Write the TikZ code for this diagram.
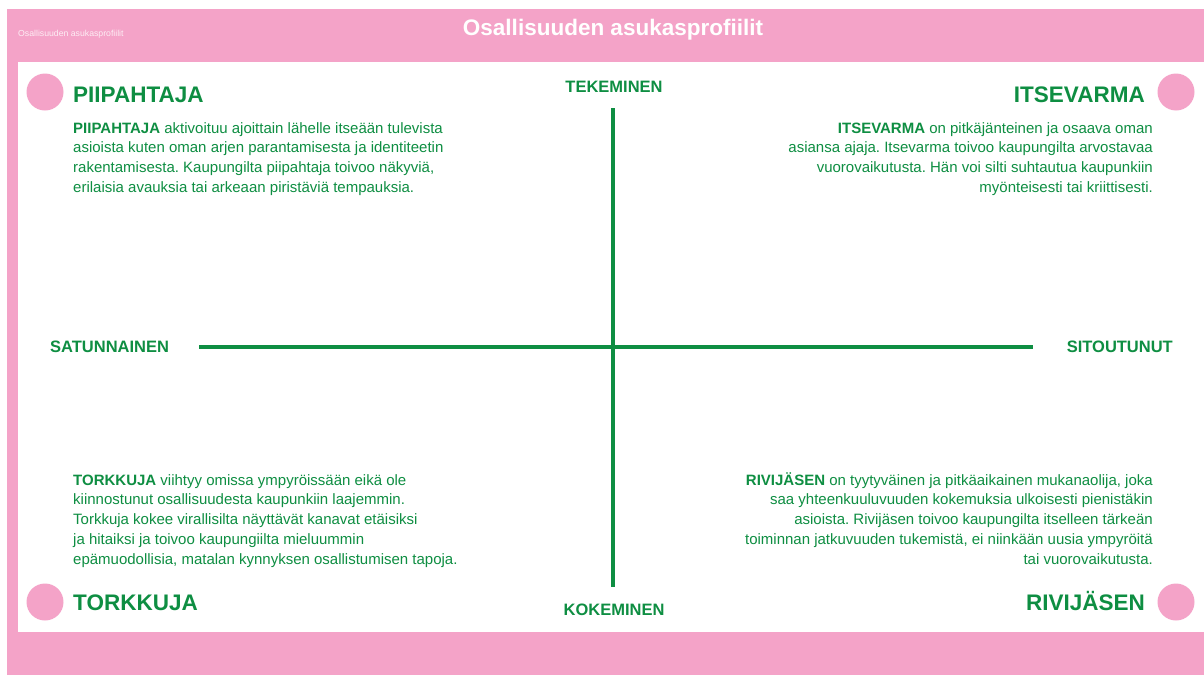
\documentclass[tikz,border=0pt]{standalone}
\usepackage{fontspec}
\setmainfont{Liberation Sans}
\frenchspacing
\definecolor{profpink}{RGB}{244,163,200}
\definecolor{profgreen}{RGB}{14,142,66}
\begin{document}
\begin{tikzpicture}[x=1pt,y=-1pt]
\tikzstyle{every node}+=[inner sep=0pt]
\tikzstyle{heading}=[font=\fontsize{22.5}{27}\selectfont\bfseries, text=profgreen]
\tikzstyle{axislabel}=[font=\fontsize{16.5}{19}\selectfont\bfseries, text=profgreen]
\tikzstyle{bodytext}=[font=\fontsize{15}{19.8}\selectfont, text=profgreen]
\tikzstyle{dot}=[circle, fill=profpink, minimum size=37pt]
\tikzstyle{axis}=[draw=profgreen, line width=4.5pt]
\useasboundingbox (0,0) rectangle (1204,675);
\fill [white] (0,0) rectangle (1204,675);
\fill [profpink] (7,9) rectangle (1204,675);
\fill [white] (18,62) rectangle (1204,632);
\node [text=white, font=\fontsize{22.5}{27}\selectfont\bfseries, anchor=base] (title) at (613,35) {Osallisuuden asukasprofiilit};
\node [text=white!80!profpink, font=\fontsize{8.7}{10}\selectfont, anchor=base west] (smalltitle) at (18,36) {Osallisuuden asukasprofiilit};
\node [dot] (dotNW) at (45,92) {};
\node [dot] (dotNE) at (1176,92) {};
\node [dot] (dotSW) at (45,602) {};
\node [dot] (dotSE) at (1176,602) {};
\node [heading, anchor=base west] (piipahtaja) at (73,102) {PIIPAHTAJA};
\node [heading, anchor=base east] (itsevarma) at (1145,102) {ITSEVARMA};
\node [heading, anchor=base west] (torkkuja) at (73,610) {TORKKUJA};
\node [heading, anchor=base east] (rivijasen) at (1145,610) {RIVIJÄSEN};
\node [axislabel, anchor=base] (tekeminen) at (614,92) {TEKEMINEN};
\node [axislabel, anchor=base] (kokeminen) at (614,615) {KOKEMINEN};
\node [axislabel, anchor=base west] (satunnainen) at (50,352) {SATUNNAINEN};
\node [axislabel, anchor=base east] (sitoutunut) at (1173,352) {SITOUTUNUT};
\coordinate (axisW) at (199,347);
\coordinate (axisE) at (1033,347);
\coordinate (axisN) at (613,108);
\coordinate (axisS) at (613,587);
\draw [axis] (axisW) -- (axisE);
\draw [axis] (axisN) -- (axisS);
\node [bodytext, anchor=north west, align=left] (piipahtajatext) at (73,122) {\textbf{PIIPAHTAJA} aktivoituu ajoittain lähelle itseään tulevista\\
asioista kuten oman arjen parantamisesta ja identiteetin\\
rakentamisesta. Kaupungilta piipahtaja toivoo näkyviä,\\
erilaisia avauksia tai arkeaan piristäviä tempauksia.};
\node [bodytext, anchor=north east, align=right] (itsevarmatext) at (1153,122) {\textbf{ITSEVARMA} on pitkäjänteinen ja osaava oman\\
asiansa ajaja. Itsevarma toivoo kaupungilta arvostavaa\\
vuorovaikutusta. Hän voi silti suhtautua kaupunkiin\\
myönteisesti tai kriittisesti.};
\node [bodytext, anchor=north west, align=left] (torkkujatext) at (73,474) {\textbf{TORKKUJA} viihtyy omissa ympyröissään eikä ole\\
kiinnostunut osallisuudesta kaupunkiin laajemmin.\\
Torkkuja kokee virallisilta näyttävät kanavat etäisiksi\\
ja hitaiksi ja toivoo kaupungiilta mieluummin\\
epämuodollisia, matalan kynnyksen osallistumisen tapoja.};
\node [bodytext, anchor=north east, align=right] (rivijasentext) at (1153,472) {\textbf{RIVIJÄSEN} on tyytyväinen ja pitkäaikainen mukanaolija, joka\\
saa yhteenkuuluvuuden kokemuksia ulkoisesti pienistäkin\\
asioista. Rivijäsen toivoo kaupungilta itselleen tärkeän\\
toiminnan jatkuvuuden tukemistä, ei niinkään uusia ympyröitä\\
tai vuorovaikutusta.};
\end{tikzpicture}
\end{document}
